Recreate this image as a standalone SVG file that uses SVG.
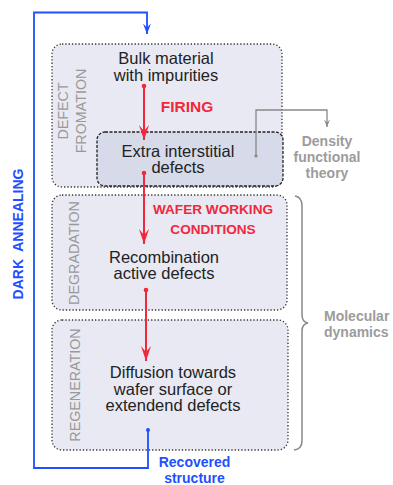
<svg xmlns="http://www.w3.org/2000/svg" width="393" height="485" viewBox="0 0 393 485">
<style>
.box{fill:#e8e9f3;stroke:#333;stroke-width:1.3;stroke-dasharray:1.3 2;}
.inner{fill:#d6dae9;stroke:#222;stroke-width:1.3;stroke-dasharray:3 1.5;}
.t{font-family:"Liberation Sans",Arial,sans-serif;font-size:16.5px;fill:#222;text-anchor:middle;}
.side{font-family:"Liberation Sans",Arial,sans-serif;font-size:14.3px;fill:#999;text-anchor:middle;}
.red{font-family:"Liberation Sans",Arial,sans-serif;font-weight:bold;fill:#f0283c;text-anchor:middle;}
.gray{font-family:"Liberation Sans",Arial,sans-serif;font-weight:bold;font-size:14px;fill:#9c9c9c;}
.blue{font-family:"Liberation Sans",Arial,sans-serif;font-weight:bold;font-size:14px;fill:#1f4fff;text-anchor:middle;}
.ra{fill:none;stroke:#f0283c;stroke-width:2;}
</style>
<defs>
<marker id="rh" markerWidth="10" markerHeight="16" refX="5" refY="15" orient="0" markerUnits="userSpaceOnUse" viewBox="0 0 10 16">
<path d="M0,0 L5,15 L10,0 L5,6 Z" fill="#f0283c"/>
</marker>
<marker id="bh" markerWidth="8" markerHeight="11" refX="4" refY="10.5" orient="0" markerUnits="userSpaceOnUse" viewBox="0 0 8 11">
<path d="M0,0 L4,10.5 L8,0 L4,4 Z" fill="#1f4fff"/>
</marker>
<marker id="gh" markerWidth="6" markerHeight="8" refX="3" refY="7.5" orient="0" markerUnits="userSpaceOnUse" viewBox="0 0 6 8">
<path d="M0,0 L3,7.5 L6,0 L3,3 Z" fill="#888"/>
</marker>
</defs>

<g id="formation">
<rect class="box" x="52" y="44" width="230" height="143" rx="10"/>
<text class="side" transform="translate(68,111) rotate(-90)">DEFECT</text>
<text class="side" transform="translate(86,111) rotate(-90)">FROMATION</text>
</g>
<g id="bulk">
<text class="t" x="166" y="64.2">Bulk material</text>
<text class="t" x="166" y="80.8">with impurities</text>
</g>
<g id="extra">
<rect class="inner" x="97" y="132" width="186" height="54" rx="8"/>
<text class="t" x="178" y="156.7">Extra interstitial</text>
<text class="t" x="178" y="173.3">defects</text>
</g>
<g id="degradation">
<rect class="box" x="52" y="195" width="235" height="115" rx="10"/>
<text class="side" transform="translate(79,253) rotate(-90)">DEGRADATION</text>
<text class="t" x="164" y="262.7">Recombination</text>
<text class="t" x="164" y="279.3">active defects</text>
</g>
<g id="regeneration">
<rect class="box" x="52" y="320" width="236" height="130" rx="10"/>
<text class="side" transform="translate(80,385) rotate(-90)">REGENERATION</text>
<text class="t" x="173" y="378">Diffusion towards</text>
<text class="t" x="173" y="394.6">wafer surface or</text>
<text class="t" x="173" y="411.2">extendend defects</text>
</g>
<g id="dft">
<text class="gray" x="327" y="146" text-anchor="middle">Density</text>
<text class="gray" x="327" y="162" text-anchor="middle">functional</text>
<text class="gray" x="327" y="177.5" text-anchor="middle">theory</text>
</g>
<g id="md">
<text class="gray" x="324" y="321">Molecular</text>
<text class="gray" x="324" y="337">dynamics</text>
</g>
<g id="labels">
<text class="red" x="187" y="112" font-size="15.5">FIRING</text>
<text class="red" x="213" y="214" font-size="13.6">WAFER WORKING</text>
<text class="red" x="213" y="234" font-size="13.6">CONDITIONS</text>
<text class="blue" x="194.5" y="467">Recovered</text>
<text class="blue" x="194.5" y="483">structure</text>
<text class="blue" transform="translate(23,234) rotate(-90)" font-size="14.5" xml:space="preserve">DARK  ANNEALING</text>
</g>

<g id="connectors">
<circle cx="144" cy="86" r="2.3" fill="#f0283c"/>
<path class="ra" d="M144,86 V140" marker-end="url(#rh)"/>
<circle cx="144" cy="173" r="2.3" fill="#f0283c"/>
<path class="ra" d="M144,173 V244" marker-end="url(#rh)"/>
<circle cx="146" cy="290" r="2.3" fill="#f0283c"/>
<path class="ra" d="M146,290 V361" marker-end="url(#rh)"/>
<circle cx="148" cy="430" r="2" fill="#1f4fff"/>
<path d="M148,430 V468 H34 V12.5 H147 V34" fill="none" stroke="#1f4fff" stroke-width="1.8" marker-end="url(#bh)"/>
<circle cx="256" cy="156" r="1.6" fill="#888"/>
<path d="M256,156 V110 H327 V127" fill="none" stroke="#888" stroke-width="1.3" marker-end="url(#gh)"/>
<path d="M295,196 Q302,197 302,206 V315 Q302,322 308,323 Q302,324 302,331 V441 Q302,449 294,450" fill="none" stroke="#888" stroke-width="1.5"/>
</g>
</svg>
